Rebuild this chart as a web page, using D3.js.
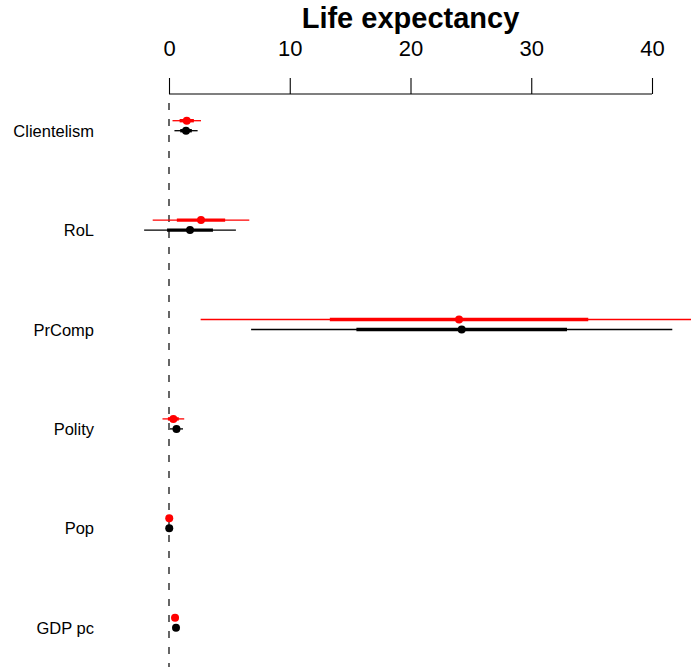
<!DOCTYPE html>
<html>
<head>
<meta charset="utf-8">
<script src="https://cdn.jsdelivr.net/npm/d3@7"></script>
<style>
  html, body { margin: 0; padding: 0; background: #fff; }
  svg { display: block; }
  text { font-family: "Liberation Sans", Arial, Helvetica, sans-serif; }
</style>
</head>
<body>
<svg id="chart" width="691" height="667"></svg>
<script>
// Coefficient names, top to bottom
const variables = ["Clientelism", "RoL", "PrComp", "Polity", "Pop", "GDP pc"];

// Model A (black): estimates and standard errors
const estBlack = [1.41, 1.74, 24.24, 0.62, 0.02, 0.58];
const seBlack  = [0.48, 1.90, 8.72, 0.27, 0.005, 0.03];

// Model B (red): estimates and standard errors
const estRed = [1.47, 2.65, 24.02, 0.36, 0.02, 0.50];
const seRed  = [0.59, 2.00, 10.70, 0.45, 0.005, 0.03];

const xTicks = [0, 10, 20, 30, 40];
const title = "Life expectancy";

const svg = d3.select("#chart");
const W = 691, H = 667;

const x = d3.scaleLinear().domain([0, 40]).range([169, 652]);
const y = d3.scalePoint().domain(variables).range([130.7, 627.7]);

const models = [
  { est: estBlack, se: seBlack, color: "#000000", offset: 0 },
  { est: estRed,   se: seRed,   color: "#ff0000", offset: -10 }
];

// Title
svg.append("text")
  .attr("x", x(20))
  .attr("y", 28)
  .attr("text-anchor", "middle")
  .attr("font-weight", "bold")
  .attr("font-size", 29)
  .text(title);

// Top axis
const axis = svg.append("g")
  .attr("transform", "translate(0,94)")
  .call(d3.axisTop(x).tickValues(xTicks).tickSize(16).tickPadding(22).tickFormat(d3.format("d")));
axis.select(".domain").attr("stroke", "#000").attr("stroke-width", 1.1)
  .attr("d", `M${x(0)},0H${x(40)}`);
axis.selectAll(".tick line").attr("stroke", "#000").attr("stroke-width", 1.1);
axis.selectAll(".tick text")
  .attr("fill", "#000")
  .attr("font-size", 22)
  .attr("font-family", "Liberation Sans, Arial, sans-serif");

// Zero reference line
svg.append("line")
  .attr("x1", x(0)).attr("x2", x(0))
  .attr("y1", 103).attr("y2", H)
  .attr("stroke", "#000")
  .attr("stroke-width", 1.2)
  .attr("stroke-dasharray", "7,9");

// Row labels
svg.append("g").selectAll("text")
  .data(variables)
  .join("text")
  .attr("x", 94)
  .attr("y", d => y(d))
  .attr("text-anchor", "end")
  .attr("dominant-baseline", "central")
  .attr("font-size", 16.5)
  .text(d => d);

// Coefficients: thin ±2 SE, thick ±1 SE, dot at the estimate
models.forEach(m => {
  const g = svg.append("g");
  const rows = variables.map((v, i) => ({ v, est: m.est[i], se: m.se[i] }));
  g.selectAll("line.outer").data(rows).join("line")
    .attr("class", "outer")
    .attr("x1", d => x(d.est - 2 * d.se)).attr("x2", d => x(d.est + 2 * d.se))
    .attr("y1", d => y(d.v) + m.offset).attr("y2", d => y(d.v) + m.offset)
    .attr("stroke", m.color).attr("stroke-width", 1.3);
  g.selectAll("line.inner").data(rows).join("line")
    .attr("class", "inner")
    .attr("x1", d => x(d.est - d.se)).attr("x2", d => x(d.est + d.se))
    .attr("y1", d => y(d.v) + m.offset).attr("y2", d => y(d.v) + m.offset)
    .attr("stroke", m.color).attr("stroke-width", 3.4);
  g.selectAll("circle").data(rows).join("circle")
    .attr("cx", d => x(d.est))
    .attr("cy", d => y(d.v) + m.offset)
    .attr("r", 4)
    .attr("fill", m.color);
});
</script>
</body>
</html>
